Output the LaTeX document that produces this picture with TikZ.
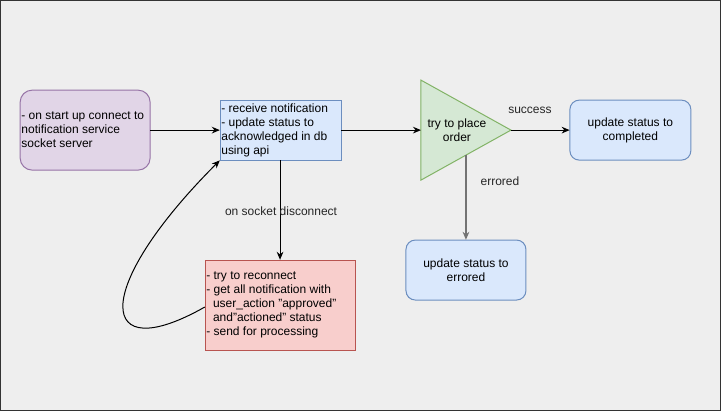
\documentclass[tikz,border=0pt]{standalone}
\usepackage{fontspec}
\setmainfont{Liberation Sans}
\usetikzlibrary{arrows.meta}
\definecolor{bg}{HTML}{EEEEEE}
\definecolor{purF}{HTML}{E1D5E7}\definecolor{purD}{HTML}{9673A6}
\definecolor{bluF}{HTML}{DAE8FC}\definecolor{bluD}{HTML}{6C8EBF}
\definecolor{grnF}{HTML}{D5E8D4}\definecolor{grnD}{HTML}{82B366}
\definecolor{redF}{HTML}{F8CECC}\definecolor{redD}{HTML}{B85450}
\begin{document}
\begin{tikzpicture}[x=0.75pt,y=-0.75pt,
  every node/.style={font=\fontsize{9}{10.5}\selectfont, inner sep=0pt},
  box/.style={draw, line width=0.75pt, minimum width=#1},
  purbox/.style={box, fill=purF, draw=purD, rounded corners=9pt},
  blubox/.style={box, fill=bluF, draw=bluD},
  rblubox/.style={box, fill=bluF, draw=bluD, rounded corners=7pt},
  redbox/.style={box, fill=redF, draw=redD},
  conn/.style={draw=black, line width=0.75pt, -{Stealth[length=6pt,width=5pt]}},
  lbl/.style={font=\fontsize{9}{10.5}\selectfont, text=black!85}]
\fill[bg] (0,0) rectangle (721,411);
\draw[black!80, line width=1pt] (0.5,0.5) rectangle (720.5,410.5);
% nodes
\path[purbox] (20,90) rectangle (150,170);
\node (p) [minimum width=130*0.75pt, minimum height=80*0.75pt] at (85,130) {};
\node[anchor=west, align=left] at (21,130) {- on start up connect to\\notification service\\socket server};
\path[blubox] (220,100) rectangle (341,160);
\node (b) [minimum width=121*0.75pt, minimum height=60*0.75pt] at (280.5,130) {};
\node[anchor=west, align=left] at (221,130) {- receive notification\\- update status to\\acknowledged in db\\using api};
\path[draw=grnD, fill=grnF, line width=0.75pt] (421,80) -- (511,130) -- (421,180) -- cycle;
\coordinate (tL) at (421,130);
\coordinate (tR) at (511,130);
\coordinate (tB) at (466,155);
\node[align=center] at (457,130) {try to place\\order};
\path[rblubox] (570,100) rectangle (691,160);
\node (c) [minimum width=121*0.75pt, minimum height=60*0.75pt] at (630.5,130) {};
\node[align=center] at (630.5,130) {update status to\\completed};
\path[rblubox] (406,240) rectangle (526,300);
\node (e) [minimum width=120*0.75pt, minimum height=60*0.75pt] at (466,270) {};
\node[align=center] at (466,270) {update status to\\errored};
\path[redbox] (205,260) rectangle (355,350);
\node (r) [minimum width=150*0.75pt, minimum height=90*0.75pt] at (280,305) {};
\node[anchor=west, align=left] at (206,305) {- try to reconnect\\- get all notification with\\\ \ user\_action "approved"\\\ \ and"actioned" status\\- send for processing};
% connectors
\draw[conn] (p.east) -- (b.west);
\draw[conn] (b.east) -- (tL);
\draw[conn] (tR) -- (c.west);
\draw[conn, draw=black!55, line width=1.5pt] (tB) -- (e.north);
\draw[conn] (280,160) -- (r.north);
\draw[conn] (r.west |- 0,307) .. controls (97,368) and (90,290) .. (b.south west);
% labels
\node[lbl] at (530,110) {success};
\node[lbl] at (500,181) {errored};
\node[lbl] at (281,211) {on socket disconnect};
\end{tikzpicture}
\end{document}
